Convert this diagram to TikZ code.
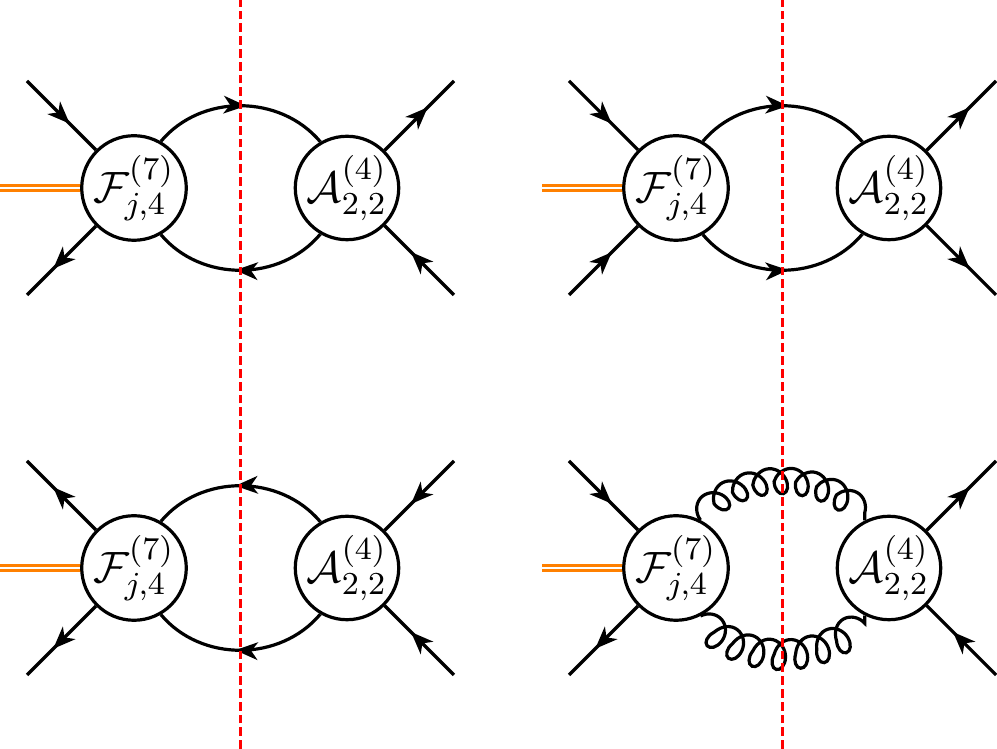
\documentclass[tikz,border=0pt]{standalone}
\usetikzlibrary{arrows.meta,decorations.markings,decorations.pathmorphing}

\tikzset{
  blob/.style={circle, draw, line width=0.8pt, minimum size=25.25pt, inner sep=0pt, fill=white,
    font=\fontsize{11.4}{13}\selectfont},
  fermion/.style={line width=0.8pt, postaction={decorate},
    decoration={markings, mark=at position #1 with {\arrow{Stealth[length=5.6pt,width=4.4pt,inset=1.6pt]}}}},
  fermion/.default=0.62,
  gluon/.style={line width=0.8pt, decorate, decoration={coil, amplitude=3.5pt, segment length=5.3pt, aspect=0.8}},
  photon/.style={draw=orange, double=white, double distance=0.55pt, line width=0.8pt},
  cutline/.style={red, line width=0.75pt, dash pattern=on 2.2pt off 1pt}
}

\begin{document}
\begin{tikzpicture}[x=0.25pt, y=0.25pt]
  \useasboundingbox (0,0) rectangle (997,749);

  % Blobs, external legs and the incoming double line
  \foreach \i/\x/\y in {1/134/561, 2/676/561, 3/134/181, 4/676/181}
  {
    \coordinate (src\i) at (\x-134,\y);
    \draw[photon] (src\i) -- (\x-52,\y);
    \node[blob] (F\i) at (\x,\y) {$\mathcal{F}^{(7)}_{j,4}$};
    \node[blob] (A\i) at (\x+213,\y) {$\mathcal{A}^{(4)}_{2,2}$};
    \coordinate (ul\i) at ([shift={(-107,107)}]F\i.center);
    \coordinate (ll\i) at ([shift={(-107,-107)}]F\i.center);
    \coordinate (ur\i) at ([shift={(107,107)}]A\i.center);
    \coordinate (lr\i) at ([shift={(107,-107)}]A\i.center);
  }

  % Top left
  \draw[fermion] (ul1) -- (F1);
  \draw[fermion] (F1) -- (ll1);
  \draw[fermion] (A1) -- (ur1);
  \draw[fermion] (lr1) -- (A1);
  \draw[fermion=0.53] (F1.60) to[out=50, in=130] (A1.120);
  \draw[fermion=0.53] (A1.-120) to[out=-130, in=-50] (F1.-60);

  % Top right
  \draw[fermion] (ul2) -- (F2);
  \draw[fermion] (ll2) -- (F2);
  \draw[fermion] (A2) -- (ur2);
  \draw[fermion] (A2) -- (lr2);
  \draw[fermion=0.53] (F2.60) to[out=50, in=130] (A2.120);
  \draw[fermion=0.53] (F2.-60) to[out=-50, in=-130] (A2.-120);

  % Bottom left
  \draw[fermion] (F3) -- (ul3);
  \draw[fermion] (F3) -- (ll3);
  \draw[fermion] (ur3) -- (A3);
  \draw[fermion] (lr3) -- (A3);
  \draw[fermion=0.53] (A3.120) to[out=130, in=50] (F3.60);
  \draw[fermion=0.53] (A3.-120) to[out=-130, in=-50] (F3.-60);

  % Bottom right, gluon loop
  \draw[fermion] (ul4) -- (F4);
  \draw[fermion] (F4) -- (ll4);
  \draw[fermion] (A4) -- (ur4);
  \draw[fermion] (lr4) -- (A4);
  \draw[gluon] (F4.63) to[out=50, in=130] (A4.117);
  \draw[gluon] (F4.-63) to[out=-50, in=-130] (A4.-117);

  % Cuts
  \draw[cutline] (240.5,0) -- (240.5,749);
  \draw[cutline] (782,0) -- (782,749);
\end{tikzpicture}
\end{document}
